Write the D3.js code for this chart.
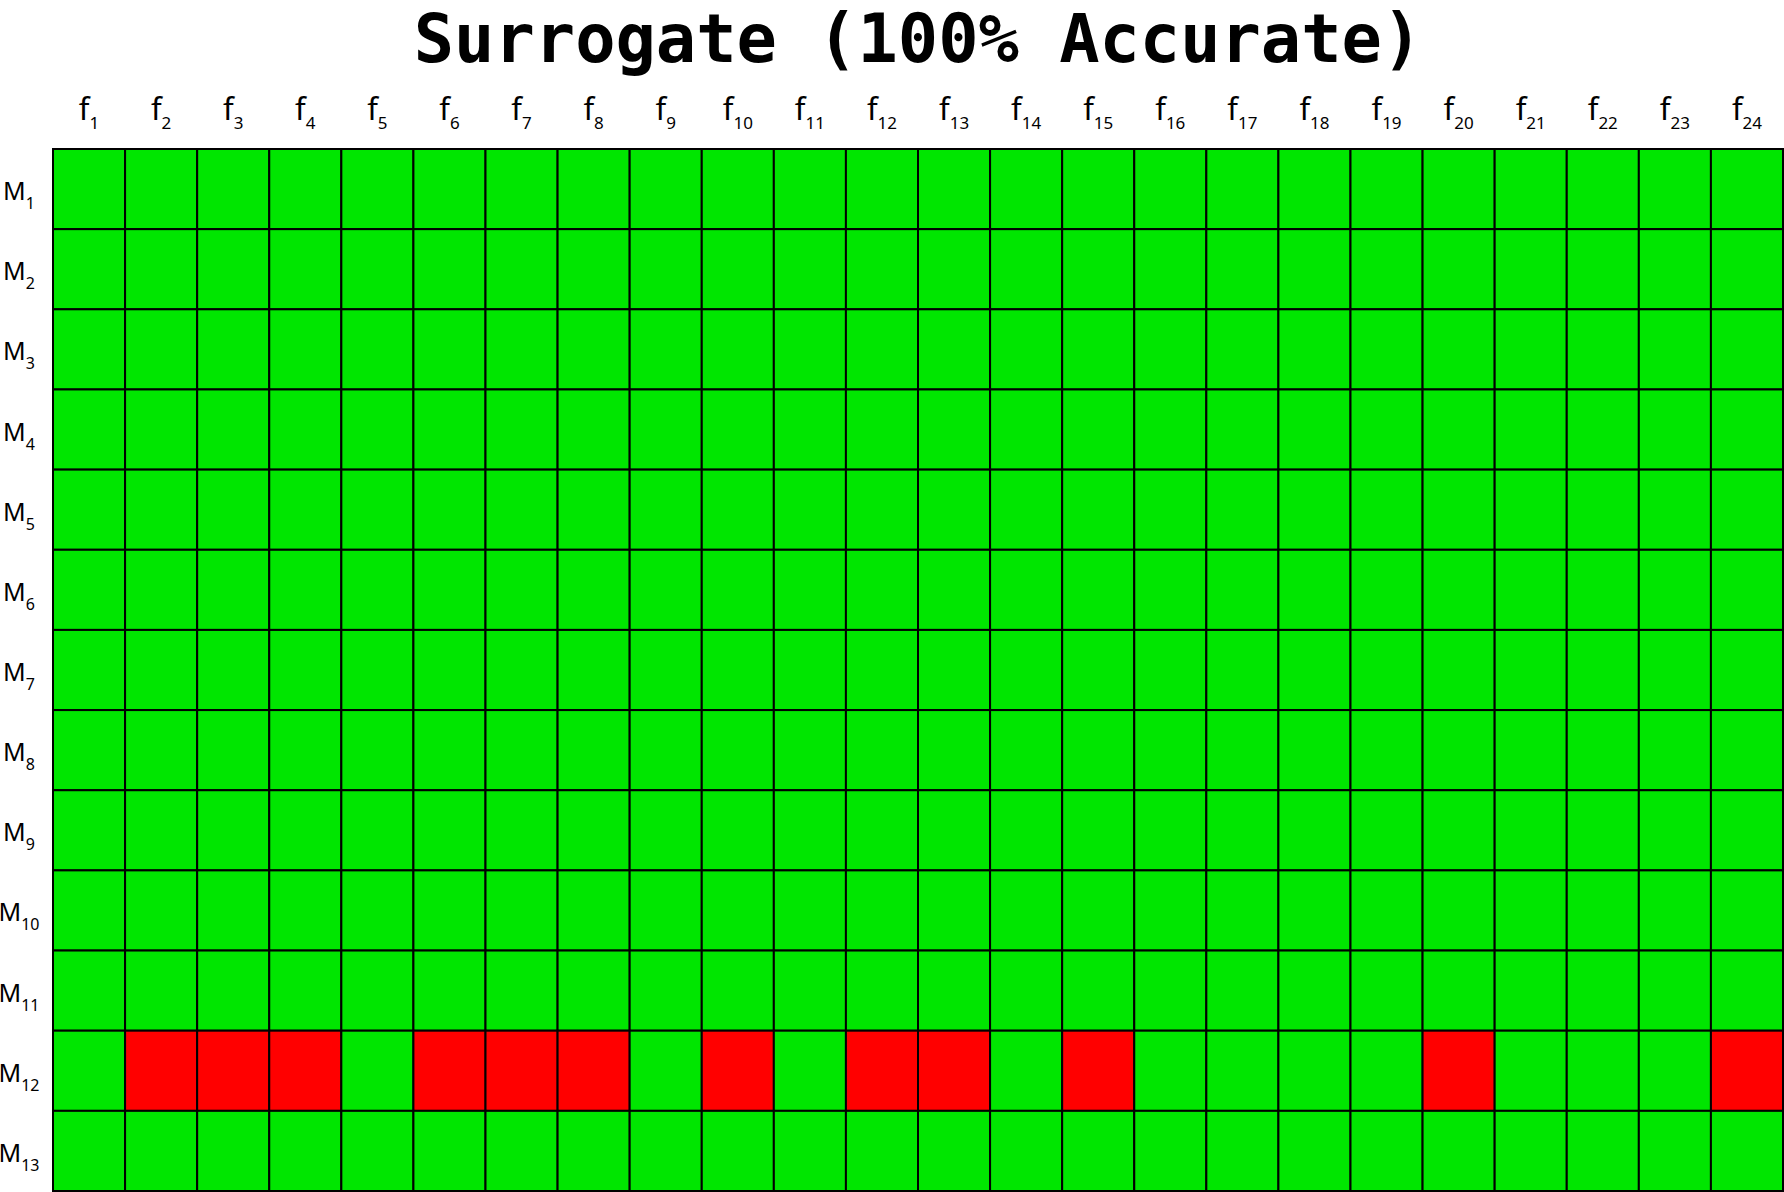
<!DOCTYPE html>
<html><head><meta charset="utf-8">
<script src="https://cdn.jsdelivr.net/npm/d3@7"></script>
<style>body{margin:0;background:#fff}svg{display:block}</style>
</head><body>
<script>
const title = "Surrogate (100% Accurate)";
const features = d3.range(1, 25).map(i => "f" + i);
const models = d3.range(1, 14).map(i => "M" + i);
// 1 = accurate (green), 0 = inaccurate (red)
const rowM1  = [1,1,1,1,1,1,1,1,1,1,1,1,1,1,1,1,1,1,1,1,1,1,1,1];
const rowM2  = [1,1,1,1,1,1,1,1,1,1,1,1,1,1,1,1,1,1,1,1,1,1,1,1];
const rowM3  = [1,1,1,1,1,1,1,1,1,1,1,1,1,1,1,1,1,1,1,1,1,1,1,1];
const rowM4  = [1,1,1,1,1,1,1,1,1,1,1,1,1,1,1,1,1,1,1,1,1,1,1,1];
const rowM5  = [1,1,1,1,1,1,1,1,1,1,1,1,1,1,1,1,1,1,1,1,1,1,1,1];
const rowM6  = [1,1,1,1,1,1,1,1,1,1,1,1,1,1,1,1,1,1,1,1,1,1,1,1];
const rowM7  = [1,1,1,1,1,1,1,1,1,1,1,1,1,1,1,1,1,1,1,1,1,1,1,1];
const rowM8  = [1,1,1,1,1,1,1,1,1,1,1,1,1,1,1,1,1,1,1,1,1,1,1,1];
const rowM9  = [1,1,1,1,1,1,1,1,1,1,1,1,1,1,1,1,1,1,1,1,1,1,1,1];
const rowM10 = [1,1,1,1,1,1,1,1,1,1,1,1,1,1,1,1,1,1,1,1,1,1,1,1];
const rowM11 = [1,1,1,1,1,1,1,1,1,1,1,1,1,1,1,1,1,1,1,1,1,1,1,1];
const rowM12 = [1,0,0,0,1,0,0,0,1,0,1,0,0,1,0,1,1,1,1,0,1,1,1,0];
const rowM13 = [1,1,1,1,1,1,1,1,1,1,1,1,1,1,1,1,1,1,1,1,1,1,1,1];
const rows = [rowM1,rowM2,rowM3,rowM4,rowM5,rowM6,rowM7,rowM8,rowM9,rowM10,rowM11,rowM12,rowM13];

(function () {
const W = 1784, H = 1192;
const gLeft = 53, gRight = 1783, gTop = 149, gBottom = 1191;

const svg = d3.select("body").append("svg").attr("width", W).attr("height", H);

const x = d3.scaleBand().domain(features).range([gLeft, gRight]).padding(0);
const y = d3.scaleBand().domain(models).range([gTop, gBottom]).padding(0);
const color = d3.scaleOrdinal().domain([1, 0]).range(["#00e600", "#ff0000"]);

const cells = [];
rows.forEach((r, i) => r.forEach((v, j) => cells.push({m: models[i], f: features[j], v})));

svg.append("g").selectAll("rect").data(cells).join("rect")
  .attr("x", d => x(d.f)).attr("y", d => y(d.m))
  .attr("width", x.bandwidth()).attr("height", y.bandwidth())
  .attr("fill", d => color(d.v))
  .attr("stroke", "#000").attr("stroke-width", 2);

svg.append("text").attr("x", 918).attr("y", 62)
  .attr("text-anchor", "middle")
  .attr("font-family", "DejaVu Sans Mono, monospace")
  .attr("font-weight", "bold").attr("font-size", 67)
  .text(title);

function subLabel(sel, bigSize, smallSize, dy) {
  sel.each(function(d) {
    const t = d3.select(this);
    t.text(null);
    t.append("tspan").attr("font-size", bigSize).text(d[0]);
    t.append("tspan").attr("font-size", smallSize).attr("dy", dy).text(d.slice(1));
  });
}

const gx = svg.append("g").attr("transform", `translate(0,${gTop - 29})`)
  .call(d3.axisTop(x).tickSize(0).tickPadding(0));
gx.select(".domain").remove();
gx.selectAll("text")
  .attr("font-family", "Noto Sans, sans-serif").attr("fill", "#000")
  .attr("dy", 0).attr("text-anchor", "middle")
  .call(subLabel, 31, 17, 9);

const gy = svg.append("g").attr("transform", `translate(19,0)`)
  .call(d3.axisLeft(y).tickSize(0).tickPadding(0));
gy.select(".domain").remove();
gy.selectAll("text")
  .attr("font-family", "Noto Sans, sans-serif").attr("fill", "#000")
  .attr("text-anchor", "middle").attr("dy", 0).attr("y", 11)
  .attr("x", 0)
  .call(subLabel, 25, 16, 9);
})();
</script>
</body></html>
